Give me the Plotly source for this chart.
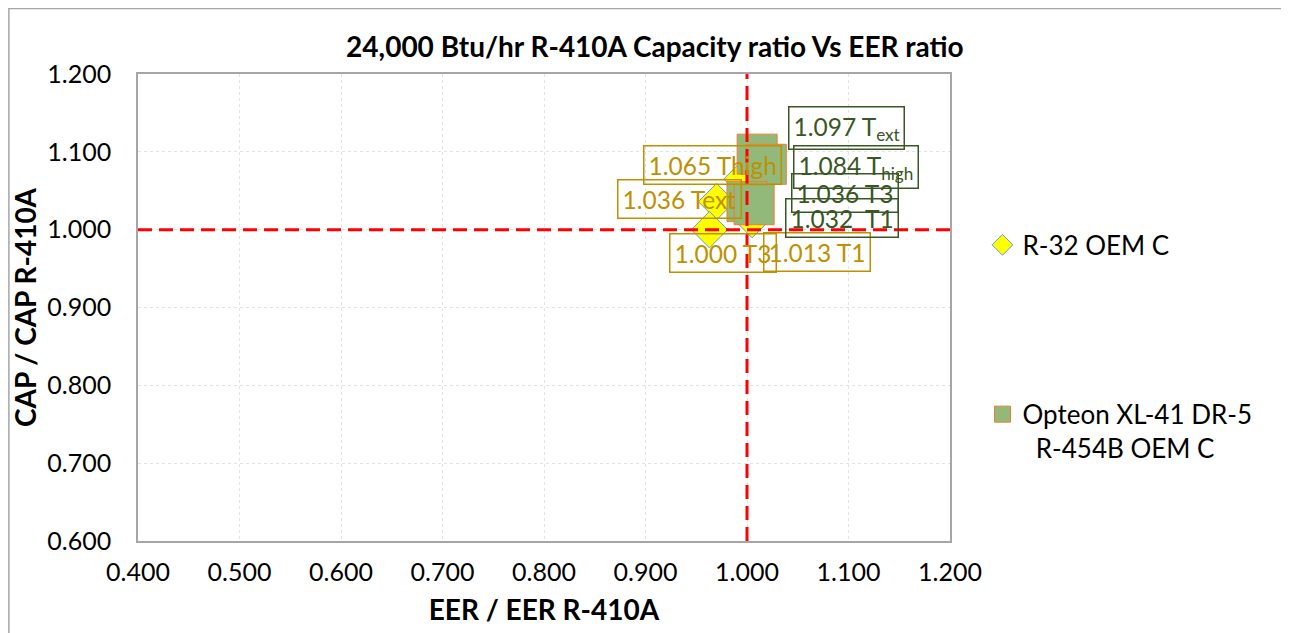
import plotly.graph_objects as go

# ---- data ----
r32_name = "R-32 OEM C"
r32_eer = [0.970, 0.995, 0.963, 1.005]
r32_cap = [1.036, 1.065, 1.000, 1.013]
r32_labels = ["1.036 Text", "1.065 Thigh", "1.000 T3", "1.013 T1"]

opt_name = "Opteon XL-41 DR-5<br>&nbsp;&nbsp;R-454B OEM C"
opt_eer = [1.010, 1.019, 1.000, 1.007]
opt_cap = [1.097, 1.084, 1.036, 1.032]
opt_labels = ["1.097 T<sub>ext</sub>", "1.084 T<sub>high</sub>", "1.036 T3", "1.032  T1"]

x_ticks = [0.4, 0.5, 0.6, 0.7, 0.8, 0.9, 1.0, 1.1, 1.2]
y_ticks = [0.6, 0.7, 0.8, 0.9, 1.0, 1.1, 1.2]

# label offsets (pixels) relative to their point
r32_shift = [(-37, 3), (-29, 14), (14, -23), (65, -32)]
opt_shift = [(89, 26), (90, -3), (98, 9), (88, -13)]

GOLD = "#bf9000"
DGREEN = "#385723"
FONT = "Lato, Calibri, Carlito, sans-serif"

fig = go.Figure()
fig.add_trace(go.Scatter(
    x=r32_eer, y=r32_cap, mode="markers", name=r32_name,
    marker=dict(symbol="diamond", size=28, color="#ffff00",
                line=dict(color="#5b9bd5", width=1)),
    legend="legend",
))
fig.add_trace(go.Scatter(
    x=opt_eer, y=opt_cap, mode="markers", name=opt_name,
    marker=dict(symbol="square", size=40, color="#93b97a",
                line=dict(color="#ed7d31", width=1)),
    legend="legend2",
))

for xv, yv, t, (dx, dy) in zip(r32_eer, r32_cap, r32_labels, r32_shift):
    fig.add_annotation(x=xv, y=yv, xref="x", yref="y", text=t, showarrow=False,
                       xshift=dx, yshift=dy, font=dict(family=FONT, size=24.5, color=GOLD),
                       bordercolor=GOLD, borderwidth=1.5, borderpad=4)
for xv, yv, t, (dx, dy) in zip(opt_eer, opt_cap, opt_labels, opt_shift):
    fig.add_annotation(x=xv, y=yv, xref="x", yref="y", text=t, showarrow=False,
                       xshift=dx, yshift=dy, font=dict(family=FONT, size=24.5, color=DGREEN),
                       bordercolor=DGREEN, borderwidth=1.5, borderpad=4)

# reference lines at 1.0
fig.add_shape(type="line", xref="x", yref="paper", x0=1.0, x1=1.0, y0=0, y1=1,
              line=dict(color="#ff0000", width=3, dash="14px,7px"))
fig.add_shape(type="line", xref="paper", yref="y", x0=0, x1=1, y0=1.0, y1=1.0,
              line=dict(color="#ff0000", width=3, dash="14px,7px"))
# outer chart border
fig.add_shape(type="rect", xref="paper", yref="paper", x0=-0.159, x1=1.42,
              y0=-0.3, y1=1.140, line=dict(color="#a6a6a6", width=1.5), layer="below")

fig.update_layout(
    width=1281, height=625,
    margin=dict(l=130, r=339, t=66, b=92),
    paper_bgcolor="white", plot_bgcolor="white",
    title=dict(text="<b>24,000 Btu/hr R-410A Capacity ratio Vs EER ratio</b>",
               x=0.505, xanchor="center", y=1 - 39 / 625, yanchor="middle",
               font=dict(family=FONT, size=28, color="black")),
    xaxis=dict(range=[0.4, 1.2], tickvals=x_ticks, tickformat=".3f",
               showgrid=True, gridcolor="#e3e3e3", griddash="3px,3px", gridwidth=1,
               showline=True, linecolor="#a6a6a6", linewidth=1.5, mirror=True,
               ticks="", zeroline=False, ticklabelstandoff=8,
               tickfont=dict(family=FONT, size=25, color="black"),
               title=dict(text="<b>EER / EER R-410A</b>", standoff=16,
                          font=dict(family=FONT, size=28, color="black"))),
    yaxis=dict(range=[0.6, 1.2], tickvals=y_ticks, tickformat=".3f",
               showgrid=True, gridcolor="#e3e3e3", griddash="3px,3px", gridwidth=1,
               showline=True, linecolor="#a6a6a6", linewidth=1.5, mirror=True,
               ticks="", zeroline=False, ticklabelstandoff=20,
               tickfont=dict(family=FONT, size=25, color="black"),
               title=dict(text="<b>CAP / CAP R-410A</b>", standoff=4,
                          font=dict(family=FONT, size=28, color="black"))),
    legend=dict(x=1.04, y=0.634, xanchor="left", yanchor="middle", itemwidth=30,
                font=dict(family=FONT, size=26, color="black"), bgcolor="rgba(0,0,0,0)"),
    legend2=dict(x=1.04, y=0.235, xanchor="left", yanchor="middle", itemwidth=30,
                 valign="top",
                 font=dict(family=FONT, size=26, color="black"), bgcolor="rgba(0,0,0,0)"),
    showlegend=True,
)

fig.write_html("out.html")
